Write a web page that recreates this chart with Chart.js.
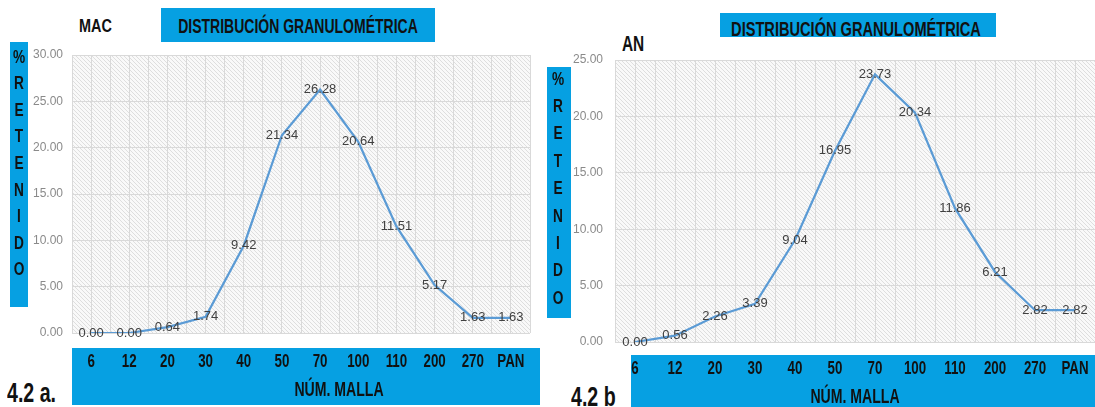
<!DOCTYPE html>
<html>
<head>
<meta charset="utf-8">
<script src="https://cdn.jsdelivr.net/npm/chart.js@4.4.1/dist/chart.umd.min.js"></script>
<style>
  html, body { margin: 0; padding: 0; background: #ffffff; }
  #stage { position: relative; width: 1095px; height: 407px; overflow: hidden; }
  #stage canvas { position: absolute; top: 0; }
  .box { position: absolute; background: #06a0e2; }
  .lbl {
    position: absolute; white-space: nowrap; color: #111111; font-weight: bold; line-height: 1;
    font-family: "Liberation Sans", Arial, sans-serif;
    transform-origin: left center;
  }
  .center { transform-origin: center center; text-align: center; }
</style>
</head>
<body>
<div id="stage">
  <!-- panel a -->
  <div class="box" style="left:10px;top:42px;width:18px;height:265px;"></div>
  <div class="box" style="left:161px;top:8px;width:274px;height:34px;"></div>
  <div class="lbl center" style="left:98px;width:400px;top:16px;font-size:20px;transform:scaleX(0.7);">DISTRIBUCIÓN GRANULOMÉTRICA</div>
  <div class="lbl" style="left:79px;top:16px;font-size:19px;transform:scaleX(0.76);">MAC</div>
  <div class="lbl" style="left:7px;top:379px;font-size:28px;transform:scaleX(0.7);">4.2 a.</div>

  <!-- panel b -->
  <div class="box" style="left:547px;top:67px;width:24px;height:251px;"></div>
  <div class="box" style="left:720px;top:13px;width:276px;height:24px;"></div>
  <div class="lbl center" style="left:656px;width:400px;top:19px;font-size:20px;transform:scaleX(0.73);">DISTRIBUCIÓN GRANULOMÉTRICA</div>
  <div class="lbl" style="left:622px;top:33px;font-size:22px;transform:scaleX(0.7);">AN</div>
  <div class="lbl" style="left:571px;top:383px;font-size:28px;transform:scaleX(0.7);">4.2 b</div>

  <canvas id="chartA" width="545" height="407" style="left:0px;"></canvas>
  <canvas id="chartB" width="550" height="407" style="left:545px;"></canvas>
</div>

<script>
// Sieve mesh numbers on the horizontal axis
const meshLabels = ['6', '12', '20', '30', '40', '50', '70', '100', '110', '200', '270', 'PAN'];

// % retained per sieve, sample MAC
const retainedMAC = [0.00, 0.00, 0.64, 1.74, 9.42, 21.34, 26.28, 20.64, 11.51, 5.17, 1.63, 1.63];

// % retained per sieve, sample AN
const retainedAN = [0.00, 0.56, 2.26, 3.39, 9.04, 16.95, 23.73, 20.34, 11.86, 6.21, 2.82, 2.82];

// value axis ranges
const yMaxMAC = 30;
const yMaxAN = 25;
const yStep = 5;

// axis captions
const xCaption = 'NÚM. MALLA';
const yCaption = ['%', 'R', 'E', 'T', 'E', 'N', 'I', 'D', 'O'];

const SANS = '"Liberation Sans", Arial, sans-serif';
const BLUE = '#06a0e2';
const GRID = '#d9d9d9';

// stacked letters of the vertical caption
function addCaption(cx, firstY, step) {
  const stage = document.getElementById('stage');
  yCaption.forEach((ch, i) => {
    const d = document.createElement('div');
    d.className = 'lbl center';
    d.style.left = (cx - 15) + 'px';
    d.style.width = '30px';
    d.style.top = (firstY + i * step - 9.5) + 'px';
    d.style.fontSize = '18px';
    d.style.transform = 'scaleX(0.76)';
    d.textContent = ch;
    stage.appendChild(d);
  });
}
addCaption(19, 57, 26.6);
addCaption(558, 79, 27.4);

function hatch(ctx) {
  const t = document.createElement('canvas');
  t.width = 4; t.height = 4;
  const c = t.getContext('2d');
  c.fillStyle = '#f9f9f9';
  c.fillRect(0, 0, 4, 4);
  c.strokeStyle = '#dedede';
  c.lineWidth = 1;
  c.beginPath();
  c.moveTo(-1, -1); c.lineTo(5, 5);
  c.moveTo(-1, 3); c.lineTo(1, 5);
  c.moveTo(3, -1); c.lineTo(5, 1);
  c.stroke();
  return ctx.createPattern(t, 'repeat');
}

function narrowText(ctx, s, x, y, sx) {
  ctx.save();
  ctx.translate(x, y);
  ctx.scale(sx, 1);
  ctx.fillText(s, 0, 0);
  ctx.restore();
}

// hatched plot background plus the blue band behind the mesh labels
const panelBackground = {
  id: 'panelBackground',
  beforeDraw(chart, args, o) {
    const { ctx, chartArea: a } = chart;
    ctx.save();
    ctx.fillStyle = hatch(ctx);
    ctx.fillRect(a.left, a.top, a.right - a.left, a.bottom - a.top);
    ctx.fillStyle = BLUE;
    ctx.fillRect(o.band[0], o.band[1], o.band[2] - o.band[0], o.band[3] - o.band[1]);
    ctx.restore();
  }
};

// mesh labels and caption inside the blue band, placed on the category scale
const meshAxisText = {
  id: 'meshAxisText',
  afterDraw(chart, args, o) {
    const { ctx } = chart;
    const xs = chart.scales.x;
    ctx.save();
    ctx.fillStyle = '#111111';
    ctx.textAlign = 'center';
    ctx.textBaseline = 'middle';
    ctx.font = 'bold 18px ' + SANS;
    chart.data.labels.forEach((lab, i) => narrowText(ctx, lab, xs.getPixelForTick(i), o.tickY, 0.74));
    ctx.font = 'bold 21px ' + SANS;
    narrowText(ctx, o.caption, o.captionX, o.captionY, 0.67);
    ctx.restore();
  }
};

// value written on every point
const pointValues = {
  id: 'pointValues',
  afterDatasetsDraw(chart) {
    const { ctx } = chart;
    const meta = chart.getDatasetMeta(0);
    const values = chart.data.datasets[0].data;
    ctx.save();
    ctx.font = '13px ' + SANS;
    ctx.fillStyle = '#404040';
    ctx.textAlign = 'center';
    ctx.textBaseline = 'middle';
    meta.data.forEach((pt, i) => ctx.fillText(values[i].toFixed(2), pt.x, pt.y));
    ctx.restore();
  }
};

function build(id, values, yMax, cfg) {
  return new Chart(document.getElementById(id), {
    type: 'line',
    data: {
      labels: meshLabels,
      datasets: [{
        data: values,
        borderColor: '#5b9bd5',
        borderWidth: 2.25,
        pointRadius: 0,
        tension: 0,
        fill: false
      }]
    },
    options: {
      responsive: false,
      animation: false,
      devicePixelRatio: 1,
      layout: { padding: { left: 0, right: cfg.padRight, top: cfg.top, bottom: 0 } },
      plugins: {
        legend: { display: false },
        tooltip: { enabled: false },
        panelBackground: { band: cfg.band },
        meshAxisText: { tickY: cfg.tickY, caption: xCaption, captionX: cfg.captionX, captionY: cfg.captionY }
      },
      scales: {
        x: {
          type: 'category',
          offset: true,
          grid: { display: false },
          border: { display: false },
          ticks: { display: false, autoSkip: false },
          afterFit(s) { s.height = cfg.xHeight; }
        },
        xg: {
          type: 'linear', position: 'top', min: 0, max: meshLabels.length * 2,
          grid: { color: GRID, drawTicks: false },
          border: { display: false },
          ticks: { display: false, stepSize: 1 },
          afterFit(s) { s.height = 0; }
        },
        y: {
          min: 0, max: yMax,
          grid: { color: GRID, drawTicks: false },
          border: { display: false },
          ticks: {
            stepSize: yStep, padding: cfg.yPad, color: '#8a8a8a',
            font: { family: SANS, size: 12 },
            callback: v => Number(v).toFixed(2)
          },
          afterFit(s) { s.width = cfg.yWidth; }
        }
      }
    },
    plugins: [panelBackground, meshAxisText, pointValues]
  });
}

build('chartA', retainedMAC, yMaxMAC, {
  top: 55, padRight: 15, yWidth: 72, yPad: 9, xHeight: 74,
  band: [72, 348, 540, 405], tickY: 362, captionX: 339, captionY: 390
});

build('chartB', retainedAN, yMaxAN, {
  top: 60, padRight: 0, yWidth: 70, yPad: 12, xHeight: 65,
  band: [86, 355, 550, 407], tickY: 369, captionX: 310, captionY: 397
});
</script>
</body>
</html>
